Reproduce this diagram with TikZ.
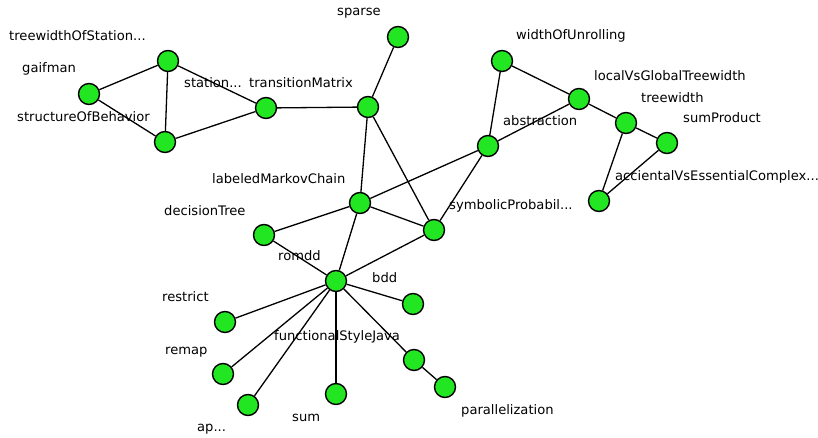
\documentclass[tikz,border=0pt]{standalone}
\usepackage{fontspec}
\setmainfont{DejaVu Sans}
\pgfdeclarelayer{labels}
\pgfdeclarelayer{edges}
\pgfsetlayers{labels,edges,main}
\definecolor{vgreen}{RGB}{34,230,34}
\tikzset{
  vertex/.style={circle, draw=black, line width=1.4pt, fill=vgreen, minimum size=21pt, inner sep=0pt},
  tag/.style={anchor=west, inner sep=0pt, font=\fontsize{13.1pt}{15pt}\selectfont, text=black},
  link/.style={draw=black, line width=1.3pt}
}
\begin{document}
\begin{tikzpicture}[x=1pt, y=-1pt]
\useasboundingbox (0,0) rectangle (818,438);
% vertices
\node[vertex] (tos) at (168,61) {};
\node[vertex] (gai) at (89,94) {};
\node[vertex] (sob) at (165,142) {};
\node[vertex] (sta) at (266,108) {};
\node[vertex] (tm)  at (368,107) {};
\node[vertex] (spa) at (398,37) {};
\node[vertex] (wou) at (502,61) {};
\node[vertex] (lvg) at (579,99) {};
\node[vertex] (tw)  at (626,123) {};
\node[vertex] (sp)  at (667,143) {};
\node[vertex] (ave) at (599,201) {};
\node[vertex] (abs) at (488,146) {};
\node[vertex] (lmc) at (360,203) {};
\node[vertex] (spb) at (434,230) {};
\node[vertex] (dt)  at (264,235) {};
\node[vertex] (rom) at (336,281) {};
\node[vertex] (bdd) at (413,304) {};
\node[vertex] (res) at (225,322) {};
\node[vertex] (rem) at (223,374) {};
\node[vertex] (ap)  at (248,405) {};
\node[vertex] (sum) at (336,394) {};
\node[vertex] (fsj) at (414,360) {};
\node[vertex] (par) at (445,387) {};
% vertex names
\begin{pgfonlayer}{labels}
\node[tag] (l-tos) at (9,36) {treewidthOfStation...};
\node[tag] (l-gai) at (22,69) {gaifman};
\node[tag] (l-sob) at (17,117) {structureOfBehavior};
\node[tag] (l-sta) at (184,83) {station...};
\node[tag] (l-tm)  at (249,83) {transitionMatrix};
\node[tag] (l-spa) at (337,13) {sparse};
\node[tag] (l-wou) at (516,36) {widthOfUnrolling};
\node[tag] (l-lvg) at (594,76) {localVsGlobalTreewidth};
\node[tag] (l-tw)  at (641,98) {treewidth};
\node[tag] (l-sp)  at (683,118) {sumProduct};
\node[tag] (l-abs) at (503,121) {abstraction};
\node[tag] (l-ave) at (615,177) {accientalVsEssentialComplex...};
\node[tag] (l-spb) at (449,206) {symbolicProbabil...};
\node[tag] (l-lmc) at (212,179) {labeledMarkovChain};
\node[tag] (l-dt)  at (164,211) {decisionTree};
\node[tag] (l-rom) at (278,256) {romdd};
\node[tag] (l-bdd) at (372,278) {bdd};
\node[tag] (l-res) at (162,297) {restrict};
\node[tag] (l-rem) at (165,352) {remap};
\node[tag] (l-fsj) at (274,337) {functionalStyleJava};
\node[tag] (l-ap)  at (197,429) {ap...};
\node[tag] (l-sum) at (292,418) {sum};
\node[tag] (l-par) at (461,411) {parallelization};
\end{pgfonlayer}
% edges
\begin{pgfonlayer}{edges}
\path[link] (gai) -- (tos);
\path[link] (gai) -- (sob);
\path[link] (tos) -- (sob);
\path[link] (tos) -- (sta);
\path[link] (sob) -- (sta);
\path[link] (sta) -- (tm);
\path[link] (tm) -- (spa);
\path[link] (tm) -- (lmc);
\path[link] (tm) -- (spb);
\path[link] (wou) -- (abs);
\path[link] (wou) -- (lvg);
\path[link] (lvg) -- (abs);
\path[link] (lvg) -- (tw);
\path[link] (tw) -- (sp);
\path[link] (tw) -- (ave);
\path[link] (sp) -- (ave);
\path[link] (abs) -- (lmc);
\path[link] (abs) -- (spb);
\path[link] (lmc) -- (dt);
\path[link] (lmc) -- (spb);
\path[link] (lmc) -- (rom);
\path[link] (spb) -- (rom);
\path[link] (dt) -- (rom);
\path[link] (rom) -- (bdd);
\path[link] (rom) -- (res);
\path[link] (rom) -- (rem);
\path[link] (rom) -- (ap);
\path[link] (rom) -- (sum);
\path[link] (rom) -- (fsj);
\path[link] (fsj) -- (par);
\end{pgfonlayer}
\end{tikzpicture}
\end{document}
